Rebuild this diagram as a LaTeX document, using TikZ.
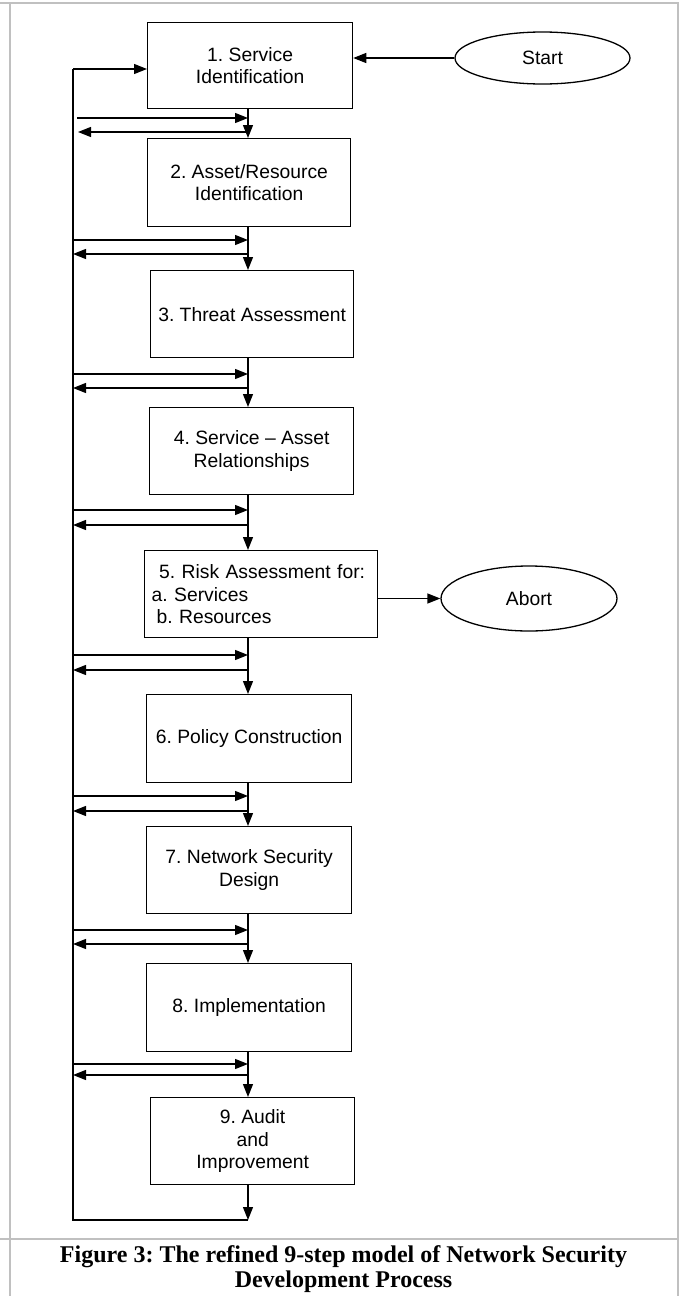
\documentclass[tikz,border=0pt]{standalone}
\usepackage{fontspec}
\setmainfont{Liberation Sans}
\newfontfamily\capfont{Liberation Serif}
\usetikzlibrary{arrows.meta,calc,shapes.geometric}
\frenchspacing

\definecolor{framegray}{HTML}{C0C0C0}

\tikzset{
  stepbox/.style={draw, line width=1.3pt, inner sep=0pt, anchor=north west,
    align=center, font=\fontsize{19.3}{22.5}\selectfont},
  endpoint/.style={draw, ellipse, line width=1.3pt, inner sep=0pt,
    font=\fontsize{19.3}{22.5}\selectfont},
  link/.style={line width=1.3pt, -{Triangle[length=13pt,width=10pt]}},
  plain/.style={line width=1.3pt},
  frame/.style={draw=framegray, line width=2pt}
}

\begin{document}
\begin{tikzpicture}[x=1pt, y=-1pt]
\useasboundingbox (0,0) rectangle (679,1296);

% table frame
\draw[frame] (0,2.5) -- (679,2.5);
\draw[frame] (10,2.5) -- (10,1296);
\draw[frame] (677.5,2.5) -- (677.5,1296);
\draw[frame] (0,1239) -- (677.5,1239);

% process steps
\node[stepbox, minimum width=205pt, minimum height=86pt] (B1) at (147,22)
  {1. Service\\Identification};
\node[stepbox, minimum width=203pt, minimum height=88pt] (B2) at (147,138)
  {2. Asset/Resource\\Identification};
\node[stepbox, minimum width=203pt, minimum height=87pt] (B3) at (150,270)
  {3. Threat Assessment};
\node[stepbox, minimum width=204pt, minimum height=87pt] (B4) at (149,407)
  {4. Service -- Asset\\Relationships};
\node[stepbox, align=left, text width=219pt, inner xsep=7pt,
      minimum height=87pt] (B5) at (144,550)
  {\hspace*{7.5pt}5. Risk Assessment for:\\a. Services\\\hspace*{5pt}b. Resources};
\node[stepbox, minimum width=205pt, minimum height=88pt] (B6) at (146,694)
  {6. Policy Construction};
\node[stepbox, minimum width=205pt, minimum height=87pt] (B7) at (146,826)
  {7. Network Security\\Design};
\node[stepbox, minimum width=205pt, minimum height=88pt] (B8) at (146,963)
  {8. Implementation};
\node[stepbox, minimum width=204pt, minimum height=87pt] (B9) at (150,1097)
  {9. Audit\\and\\Improvement};

% terminals
\node[endpoint, minimum width=175pt, minimum height=52pt] (start) at (542.5,58) {Start};
\node[endpoint, minimum width=176pt, minimum height=65pt] (abort) at (529,598.5) {Abort};

% main spine and feedback line
\coordinate (spine) at (248,0);
\coordinate (loopin) at (73,69);
\coordinate (loopend) at (73,1220);

\draw[link] (start.west) -- (start.west -| B1.east);
\draw[link] (B5.east |- abort.west) -- (abort.west);

\draw[link] (B1.south -| spine) -- (B2.north -| spine);
\draw[link] (B2.south -| spine) -- (B3.north -| spine);
\draw[link] (B3.south -| spine) -- (B4.north -| spine);
\draw[link] (B4.south -| spine) -- (B5.north -| spine);
\draw[link] (B5.south -| spine) -- (B6.north -| spine);
\draw[link] (B6.south -| spine) -- (B7.north -| spine);
\draw[link] (B7.south -| spine) -- (B8.north -| spine);
\draw[link] (B8.south -| spine) -- (B9.north -| spine);
\draw[link] (B9.south -| spine) -- (loopend -| spine);

% feedback loop back to step 1
\draw[plain] (loopend -| spine) -- (loopend) -- (loopin);
\draw[link] (loopin) -- (loopin -| B1.west);

% forward / backward exchanges between each pair of steps
\coordinate (fwd1) at (77,118);  \coordinate (back1) at (78,132);
\draw[link] (fwd1) -- (fwd1 -| spine);
\draw[link] (back1 -| spine) -- (back1);
\foreach \k/\ya/\yb in {2/240/254, 3/374/388, 4/510/525, 5/655/670,
                        6/796/811, 7/930/944, 8/1064/1075}{
  \coordinate (fwd\k) at (73,\ya);
  \coordinate (back\k) at (73,\yb);
  \draw[link] (fwd\k) -- (fwd\k -| spine);
  \draw[link] (back\k -| spine) -- (back\k);
}

% caption
\node[font=\capfont\bfseries\fontsize{24}{25}\selectfont, align=center] (cap)
  at (343.5,1269.5)
  {Figure 3: The refined 9-step model of Network Security\\Development Process};
\end{tikzpicture}
\end{document}
